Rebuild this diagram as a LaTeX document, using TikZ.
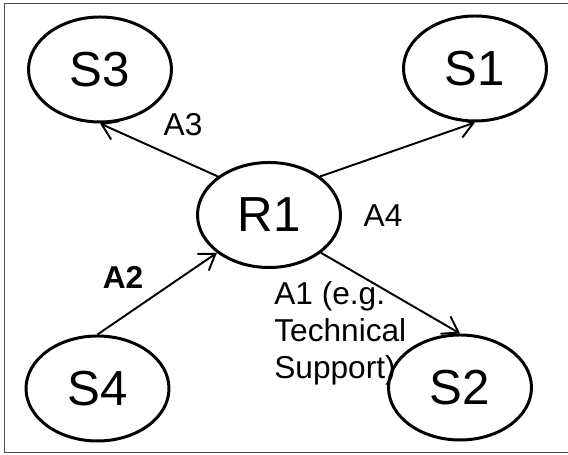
\documentclass[tikz,border=0pt]{standalone}
\usepackage{fontspec}
\setmainfont{Liberation Sans}
\usetikzlibrary{arrows.meta, positioning, shapes.geometric}

\begin{document}
\begin{tikzpicture}[
    state/.style={ellipse, draw, line width=1.7pt, minimum width=2.86cm, minimum height=2.1cm, inner sep=0pt, font=\fontsize{28}{32}\selectfont},
    alabel/.style={font=\fontsize{18}{21}\selectfont, inner sep=0pt},
    actarr/.style={-{Straight Barb[length=3mm, width=4mm]}, line width=1.1pt}
]
\useasboundingbox (0,0) rectangle (11.36,9.1);
% Outer frame (open on the right)
\draw[line width=0.75pt, black!70] (0.09,0.046) rectangle (11.6,9.03);

% Central state
\node[state] (r1) at (5.38,4.8) {R1};
% Top row: S3, S1
\node[state] (s3) at (2.0,7.71) {S3};
\node[state] (s1) at (9.5,7.73) {S1};
% Bottom row: S4, S2
\node[state] (s4) at (1.95,1.33) {S4};
\node[state] (s2) at (9.2,1.35) {S2};

% Transitions through R1
\draw[actarr] (r1.143) -- (s3.south);
\draw[actarr] (r1.37) -- (s1.south);
\draw[actarr] (s4.north) -- (r1.216);
\draw[actarr] (r1.324) -- (s2.north);

% Action labels
\node[alabel] (a3) at (3.66,6.6) {A3};
\node[alabel] (a4) at (7.66,4.78) {A4};
\node[alabel] (a2) at (2.46,3.56) {\bfseries A2};
\node[alabel, align=left, anchor=north west] (a1) at (5.48,3.48) {A1 (e.g.\\Technical\\Support)};
\end{tikzpicture}
\end{document}
